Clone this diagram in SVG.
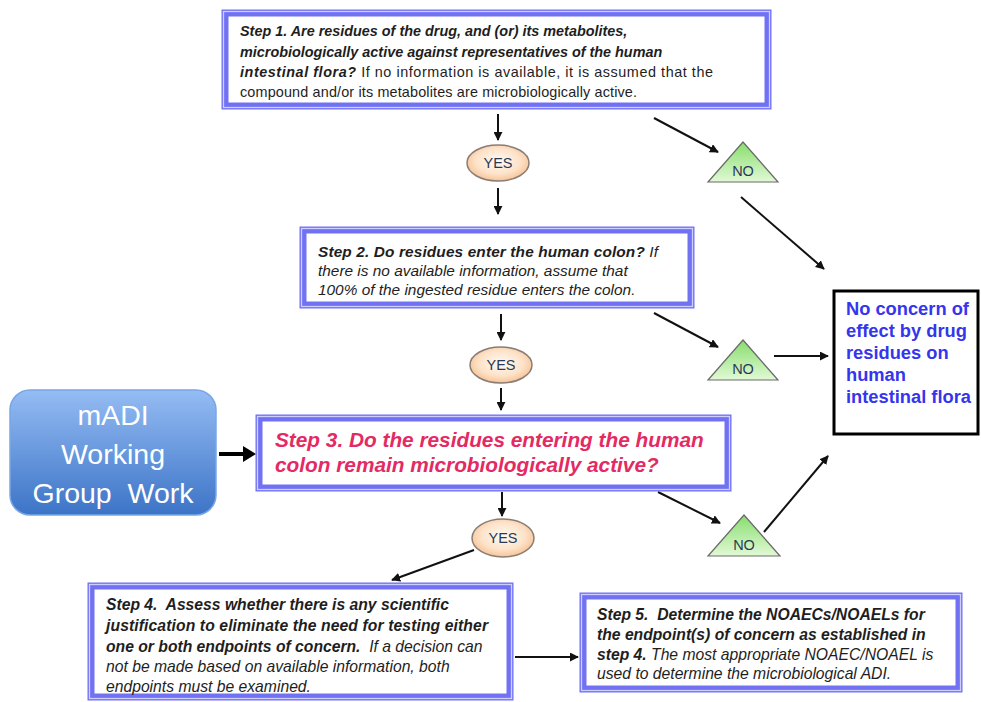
<svg xmlns="http://www.w3.org/2000/svg" width="981" height="702" viewBox="0 0 981 702">
<defs>
<style>
.box{fill:#fff;stroke:#7171f4;stroke-width:7}
.boxin{fill:none;stroke:#cfcfff;stroke-width:1.3}
.t{font-family:"Liberation Sans",Arial,sans-serif;fill:#1e1e1e}
.s1{font-size:14.4px}
.s2{font-size:15.4px}
.s4{font-size:15.7px}
.i{font-style:italic}
.r{font-style:normal}
.b{font-weight:bold}
.n{font-weight:normal}
.s3{font-family:"Liberation Sans",Arial,sans-serif;font-size:20.8px;font-weight:bold;font-style:italic;fill:#e42a62}
.nc{font-family:"Liberation Sans",Arial,sans-serif;font-size:18.3px;font-weight:bold;fill:#3535ee}
.yes{fill:url(#gy);stroke:#8a7d74;stroke-width:1.5}
.no{fill:url(#gn);stroke:#6a6a6a;stroke-width:1.2}
.lbl{font-family:"Liberation Sans",Arial,sans-serif;font-size:14.5px;fill:#2a3a55;text-anchor:middle}
.c{stroke:#111;stroke-width:2;fill:none;marker-end:url(#ah)}
.m{font-family:"Liberation Sans",Arial,sans-serif;font-size:28.5px;fill:#fff;text-anchor:middle}
</style>
<marker id="ah" viewBox="0 0 10 10" refX="9" refY="5" markerWidth="9" markerHeight="9" markerUnits="userSpaceOnUse" orient="auto">
<path d="M0,0 L10,5 L0,10 z" fill="#111"/>
</marker>
<radialGradient id="gy" cx="0.5" cy="0.45" r="0.6">
<stop offset="0" stop-color="#fffaf4"/>
<stop offset="0.6" stop-color="#fde2c8"/>
<stop offset="1" stop-color="#f5bb8a"/>
</radialGradient>
<linearGradient id="gn" x1="0" y1="0" x2="0" y2="1">
<stop offset="0" stop-color="#86dd6c"/>
<stop offset="1" stop-color="#e2f9d6"/>
</linearGradient>
<linearGradient id="gm" x1="0" y1="0" x2="0" y2="1">
<stop offset="0" stop-color="#95bcf4"/>
<stop offset="1" stop-color="#3c74c6"/>
</linearGradient>
</defs>

<g id="connectors">
<line class="c" x1="498" y1="114" x2="498" y2="140"/>
<line class="c" x1="498" y1="188" x2="498" y2="214"/>
<line class="c" x1="654" y1="118" x2="718" y2="152"/>
<line class="c" x1="741" y1="197" x2="824" y2="269"/>
<line class="c" x1="501" y1="314" x2="501" y2="340"/>
<line class="c" x1="501" y1="388" x2="501" y2="410"/>
<line class="c" x1="654" y1="313" x2="718" y2="347"/>
<line class="c" x1="774" y1="356" x2="828" y2="356"/>
<line stroke="#000" stroke-width="4" x1="219" y1="454" x2="247" y2="454"/>
<path d="M243,446 L256,454 L243,462 z" fill="#000"/>
<line class="c" x1="502" y1="492" x2="502" y2="516"/>
<line class="c" x1="658" y1="492" x2="720" y2="523"/>
<line class="c" x1="764" y1="532" x2="828" y2="456"/>
<line class="c" x1="474" y1="550" x2="392" y2="580"/>
<line class="c" x1="515" y1="657" x2="578" y2="657"/>
</g>

<g id="step1">
<rect class="box" x="225" y="13" width="543" height="93"/>
<rect class="boxin" x="223.5" y="11.5" width="546" height="96"/>
<text class="t s1 i b" x="240" y="36">Step 1. Are residues of the drug, and (or) its metabolites,</text>
<text class="t s1 i b" x="240" y="56.5">microbiologically active against representatives of the human</text>
<text class="t s1" x="240" y="77" textLength="473"><tspan class="i b">intestinal flora?</tspan><tspan class="r n"> If no information is available, it is assumed that the</tspan></text>
<text class="t s1 r n" x="240" y="97" textLength="397">compound and/or its metabolites are microbiologically active.</text>
</g>

<g id="yes1">
<ellipse class="yes" cx="498" cy="163" rx="31" ry="18"/>
<text class="lbl" x="498" y="168">YES</text>
</g>

<g id="no1">
<polygon class="no" points="743,142 778,182 708,182"/>
<text class="lbl" x="743" y="176">NO</text>
</g>

<g id="step2">
<rect class="box" x="303" y="230" width="388" height="75"/>
<rect class="boxin" x="301.5" y="228.5" width="391" height="78"/>
<text class="t s2 i b" x="318" y="257" textLength="340">Step 2. Do residues enter the human colon? <tspan class="n">If</tspan></text>
<text class="t s2 i" x="318" y="276">there is no available information, assume that</text>
<text class="t s2 i" x="318" y="295">100% of the ingested residue enters the colon.</text>
</g>

<g id="yes2">
<ellipse class="yes" cx="501" cy="365" rx="31" ry="18"/>
<text class="lbl" x="501" y="370">YES</text>
</g>

<g id="no2">
<polygon class="no" points="743,340 778,380 708,380"/>
<text class="lbl" x="743" y="374">NO</text>
</g>

<g id="noconcern">
<rect x="834" y="291" width="144" height="143" fill="#fff" stroke="#000" stroke-width="3"/>
<text class="nc" x="846" y="315">No concern of</text>
<text class="nc" x="846" y="337">effect by drug</text>
<text class="nc" x="846" y="359">residues on</text>
<text class="nc" x="846" y="381">human</text>
<text class="nc" x="846" y="403">intestinal flora</text>
</g>

<g id="madi">
<rect x="10" y="390" width="206" height="125" rx="20" fill="url(#gm)" stroke="#7aa6e6" stroke-width="1.5"/>
<text class="m" x="113" y="425">mADI</text>
<text class="m" x="113" y="464">Working</text>
<text class="m" x="113" y="503" xml:space="preserve">Group  Work</text>
</g>

<g id="step3">
<rect class="box" x="259" y="418" width="469" height="70"/>
<rect class="boxin" x="257.5" y="416.5" width="472" height="73"/>
<text class="s3" x="275" y="447">Step 3. Do the residues entering the human</text>
<text class="s3" x="275" y="472">colon remain microbiologically active?</text>
</g>

<g id="yes3">
<ellipse class="yes" cx="503" cy="538" rx="31" ry="19"/>
<text class="lbl" x="503" y="543">YES</text>
</g>

<g id="no3">
<polygon class="no" points="744,515 780,556 708,556"/>
<text class="lbl" x="744" y="550">NO</text>
</g>

<g id="step4">
<rect class="box" x="91" y="586" width="419" height="111"/>
<rect class="boxin" x="89.5" y="584.5" width="422" height="114"/>
<text class="t s4 i b" x="106" y="610" xml:space="preserve">Step 4.  Assess whether there is any scientific</text>
<text class="t s4 i b" x="106" y="631" textLength="382">justification to eliminate the need for testing either</text>
<text class="t s4 i b" x="106" y="652" xml:space="preserve">one or both endpoints of concern.  <tspan class="n">If a decision can</tspan></text>
<text class="t s4 i" x="106" y="672">not be made based on available information, both</text>
<text class="t s4 i" x="106" y="692">endpoints must be examined.</text>
</g>

<g id="step5">
<rect class="box" x="583" y="596" width="376" height="93"/>
<rect class="boxin" x="581.5" y="594.5" width="379" height="96"/>
<text class="t s4 i b" x="597" y="620" xml:space="preserve">Step 5.  Determine the NOAECs/NOAELs for</text>
<text class="t s4 i b" x="597" y="640">the endpoint(s) of concern as established in</text>
<text class="t s4 i b" x="597" y="660">step 4. <tspan class="n">The most appropriate NOAEC/NOAEL is</tspan></text>
<text class="t s4 i" x="597" y="679">used to determine the microbiological ADI.</text>
</g>
</svg>
